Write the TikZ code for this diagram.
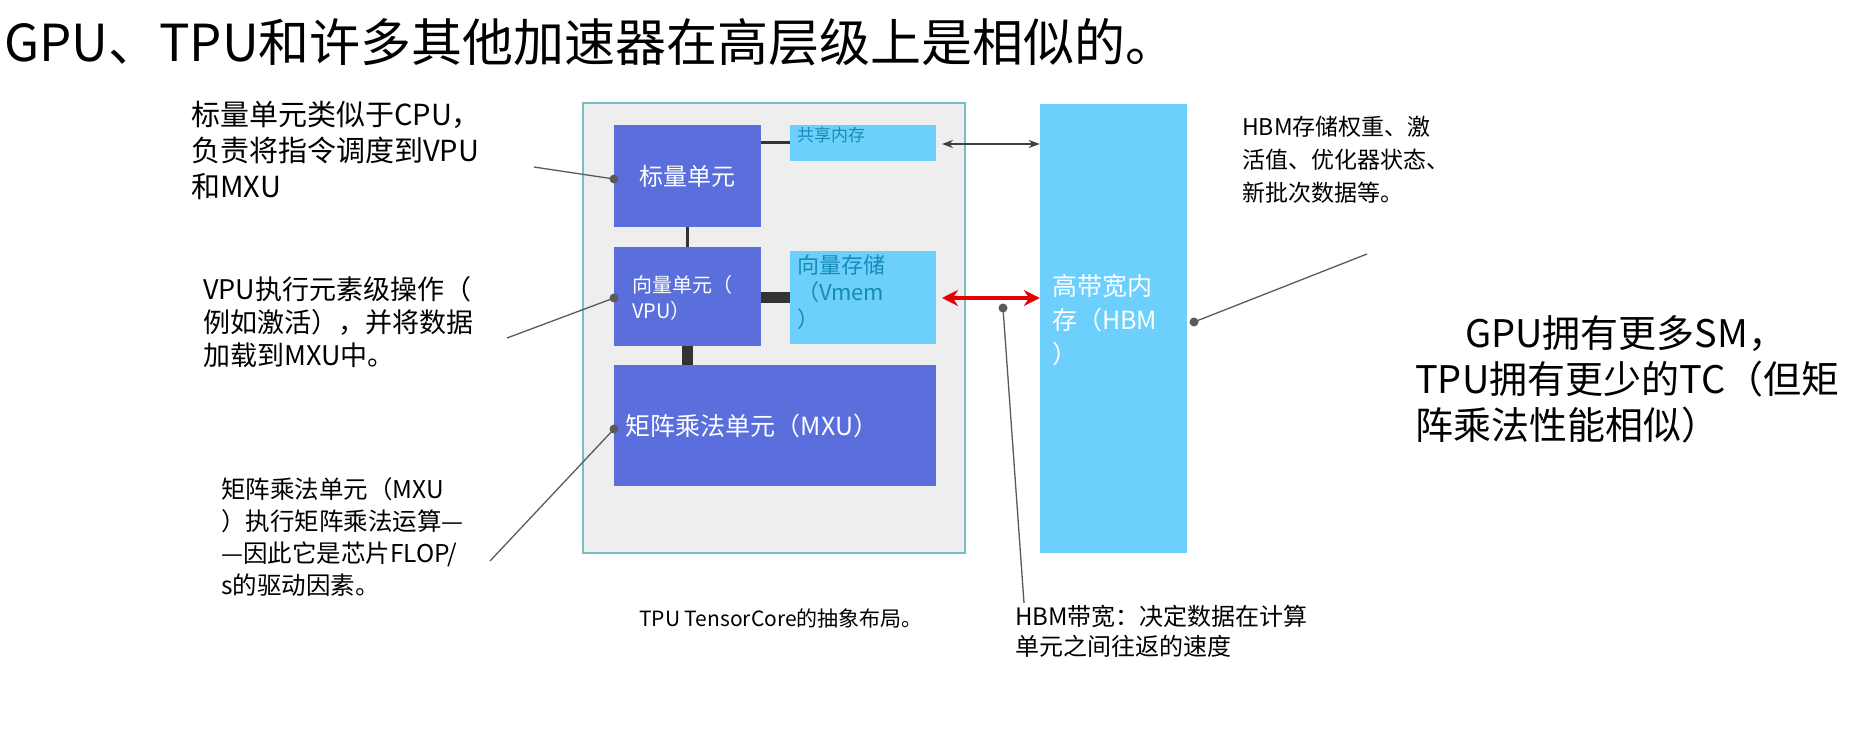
\documentclass[tikz,border=0pt]{standalone}
\usepackage{fontspec}
\setmainfont{Noto Sans CJK SC}
\usetikzlibrary{arrows.meta}
\definecolor{unit}{RGB}{90,111,219}
\definecolor{mem}{RGB}{109,207,251}
\definecolor{chip}{RGB}{238,238,238}
\definecolor{chipb}{RGB}{120,190,190}
\definecolor{memt}{RGB}{20,140,180}
\definecolor{lead}{RGB}{90,90,90}
\begin{document}
\begin{tikzpicture}[x=1pt,y=-1pt,
  lbl/.style={align=left,inner sep=0,anchor=north west,text=black},
  blk/.style={draw=none,inner sep=0},
  leadl/.style={draw=lead,line width=1.3pt},
  dot/.style={circle,fill=lead,inner sep=0,minimum size=9pt}]
\useasboundingbox (0,0) rectangle (1872,735);
\fill[white] (0,0) rectangle (1872,735);
% title
\node[inner sep=0,anchor=west,font=\fontsize{51}{60}\selectfont] (title) at (4,42) {GPU、TPU和许多其他加速器在高层级上是相似的。};
% chip
\draw[chipb,fill=chip,line width=1.5pt] (583,103) rectangle (965,553);
\node[blk,fill=unit,minimum width=147pt,minimum height=102pt] (su) at (687.5,176) {};
\node[blk,fill=mem,minimum width=146pt,minimum height=36pt] (sm) at (863,143) {};
\node[blk,fill=unit,minimum width=147pt,minimum height=99pt] (vu) at (687.5,296.5) {};
\node[blk,fill=mem,minimum width=146pt,minimum height=93pt] (vm) at (863,297.5) {};
\node[blk,fill=unit,minimum width=322pt,minimum height=121pt] (mxu) at (775,425.5) {};
\node[blk,fill=mem,minimum width=147pt,minimum height=449pt] (hbm) at (1113.5,328.5) {};
% internal connectors
\draw[black!80,line width=3pt] (su.south) -- (vu.north);
\draw[black!80,line width=3pt] (su.east |- sm) -- (sm.west);
\draw[black!80,line width=11pt] (vu.east |- vm) -- (vm.west);
\draw[black!80,line width=11pt] (vu.south) -- (vu.south |- mxu.north);
% texts in blocks
\node[text=white,font=\fontsize{24}{28}\selectfont] (sut) at (su.center) {标量单元};
\node[lbl,text=memt,font=\fontsize{17}{20}\selectfont] (smt) at (797,127) {共享内存};
\node[lbl,text=white,font=\fontsize{20}{26}\selectfont] (vut) at (632,275) {向量单元（\\VPU）};
\node[lbl,text=memt,font=\fontsize{22}{27}\selectfont] (vmt) at (797,255) {向量存储\\（Vmem\\）};
\node[text=white,font=\fontsize{25}{28}\selectfont] (mxt) at (752,426) {矩阵乘法单元（MXU）};
\node[lbl,text=white,font=\fontsize{25}{34}\selectfont] (hbt) at (1052,274) {高带宽内\\存（HBM\\）};
% arrows
\draw[{Stealth[length=11pt,width=8pt]}-{Stealth[length=11pt,width=8pt]},black!75,line width=1.8pt] (942,144) -- (hbm.west |- 0,144);
\draw[{Stealth[length=16pt,width=16pt]}-{Stealth[length=16pt,width=16pt]},red!90!black,line width=4pt] (942,298) -- (hbm.west |- 0,298);
% labels
\node[lbl,font=\fontsize{29}{36}\selectfont] (l1) at (191,101) {标量单元类似于CPU，\\负责将指令调度到VPU\\和MXU};
\node[lbl,font=\fontsize{27}{33}\selectfont] (l2) at (203,276) {VPU执行元素级操作（\\例如激活），并将数据\\加载到MXU中。};
\node[lbl,font=\fontsize{24.5}{32}\selectfont] (l3) at (221,477) {矩阵乘法单元（MXU\\）执行矩阵乘法运算—\\—因此它是芯片FLOP/\\s的驱动因素。};
\node[lbl,font=\fontsize{23}{33}\selectfont] (l4) at (1242,116) {HBM存储权重、激\\活值、优化器状态、\\新批次数据等。};
\node[lbl,font=\fontsize{38}{46}\selectfont] (l5) at (1415,315) {\hspace*{50pt}GPU拥有更多SM，\\TPU拥有更少的TC（但矩\\阵乘法性能相似）};
\node[lbl,font=\fontsize{21}{26}\selectfont] (cap) at (639,609) {TPU TensorCore的抽象布局。};
\node[lbl,font=\fontsize{24}{30}\selectfont] (bw) at (1015,605) {HBM带宽：决定数据在计算\\单元之间往返的速度};
% leader lines
\coordinate (e1) at (534,167); \coordinate (d1) at (614,179);
\coordinate (e2) at (507,338); \coordinate (d2) at (614,298);
\coordinate (e3) at (490,561); \coordinate (d3) at (614,429);
\coordinate (e4) at (1367,254); \coordinate (d4) at (1194,322);
\coordinate (e5) at (1024,603); \coordinate (d5) at (1003,308);
\foreach \i in {1,...,5}{\draw[leadl] (e\i) -- (d\i); \node[dot] at (d\i) {};}
\end{tikzpicture}
\end{document}
